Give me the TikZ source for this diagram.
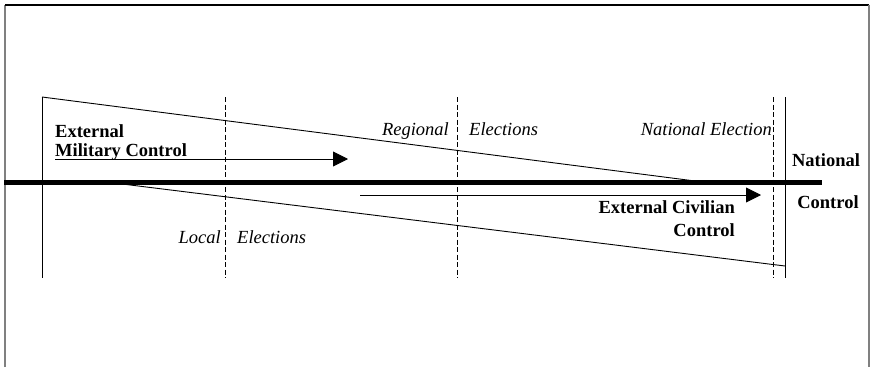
\documentclass[tikz,border=0pt]{standalone}
\usepackage{fontspec}
\setmainfont{Liberation Serif}
\usetikzlibrary{arrows.meta}
\tikzstyle{every node}=[font=\fontsize{18.5}{20}\selectfont, inner sep=0pt]
\tikzstyle{phase}=[dash pattern=on 5pt off 2.5pt, line width=0.8pt]
\tikzstyle{flow}=[line width=0.9pt, -{Triangle[length=15pt,width=15pt]}]
\tikzstyle{edge}=[line width=0.9pt]

\begin{document}
\begin{tikzpicture}[x=1pt,y=-1pt]
		\useasboundingbox (0,0) rectangle (870,367);
		\draw[gray, line width=1.2pt] (5,367) -- (5,5); \draw[line width=1.2pt] (5,5) -- (869,5); \draw[gray, line width=1.2pt] (869,5) -- (869,367); % frame
		% phases
		\draw[phase] (225,97) -- (225,278); % local
		\draw[phase] (457,97) -- (457,278); % regional
		\draw[phase] (773,97) -- (773,278); % national
		\draw[edge] (42,97) -- (42,278); \draw[edge] (785,97) -- (785,278); % start and end
		\draw[edge] (42,97) -- (695,181); % military wedge
		\draw[edge] (110,182.5) -- (785,266); % civilian wedge
		\draw[line width=5pt] (4,182) -- (822,182); % time line
		% control arrows
		\coordinate (milS) at (55,159); \coordinate (milE) at (348,159);
		\draw[flow] (milS) -- (milE);
		\coordinate (civS) at (360,195); \coordinate (civE) at (761,195);
		\draw[flow] (civS) -- (civE);
		% labels
		\node[anchor=base west, font=\fontsize{18.5}{20}\selectfont\bfseries] (ext1) at (55,137) {External};
		\node[anchor=base west, font=\fontsize{18.5}{20}\selectfont\bfseries] (ext2) at (55,156) {Military Control};
		\node[anchor=base east, font=\fontsize{18.5}{20}\selectfont\bfseries] (civ1) at (735,213) {External Civilian};
		\node[anchor=base east, font=\fontsize{18.5}{20}\selectfont\bfseries] (civ2) at (735,236) {Control};
		\node[anchor=base, font=\fontsize{18.5}{20}\selectfont\bfseries] (nat1) at (826,166) {National};
		\node[anchor=base, font=\fontsize{18.5}{20}\selectfont\bfseries] (nat2) at (828,208) {Control};
		\node[anchor=base east, font=\fontsize{18.5}{20}\selectfont\itshape] (loc1) at (221,243) {Local};
		\node[anchor=base west, font=\fontsize{18.5}{20}\selectfont\itshape] (loc2) at (237,243) {Elections};
		\node[anchor=base east, font=\fontsize{18.5}{20}\selectfont\itshape] (reg1) at (449,135) {Regional};
		\node[anchor=base west, font=\fontsize{18.5}{20}\selectfont\itshape] (reg2) at (469,135) {Elections};
		\node[anchor=base east, font=\fontsize{18.5}{20}\selectfont\itshape] (nel) at (772,135) {National Election};
	\end{tikzpicture}
\end{document}
